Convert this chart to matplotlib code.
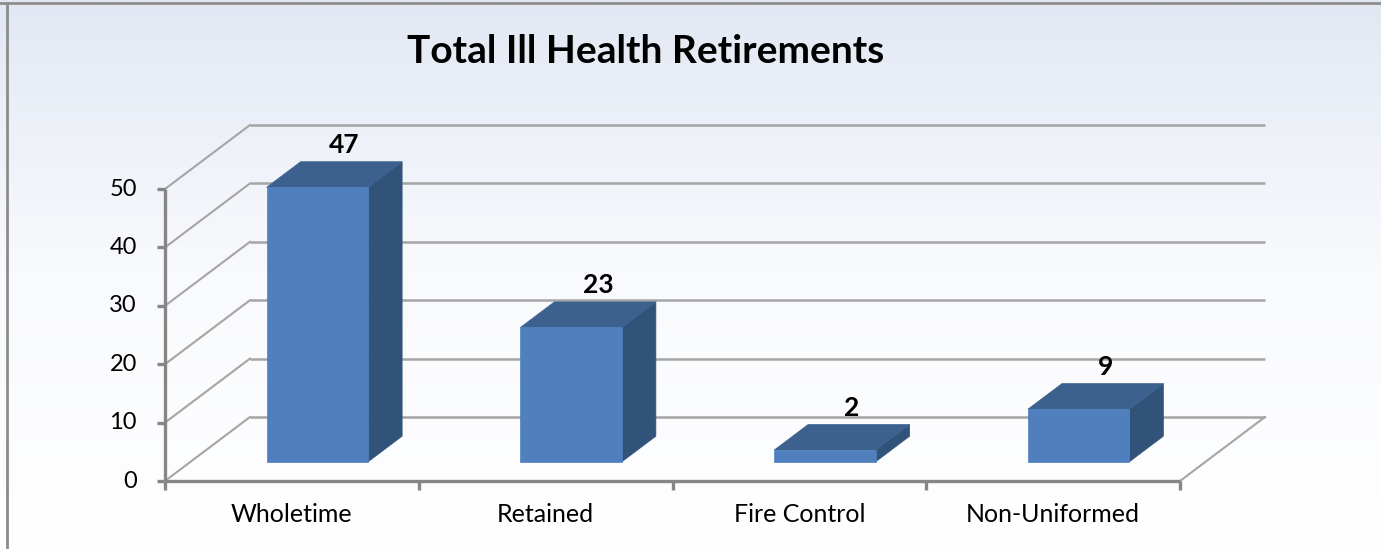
import matplotlib.pyplot as plt
import numpy as np
from matplotlib.patches import Polygon
from matplotlib.colors import LinearSegmentedColormap

categories = ["Wholetime", "Retained", "Fire Control", "Non-Uniformed"]
values = [47, 23, 2, 9]
yticks = [0, 10, 20, 30, 40, 50]
title = "Total Ill Health Retirements"

plt.rcParams['font.family'] = ['Lato', 'DejaVu Sans']

W, H = 1381, 549
fig = plt.figure(figsize=(W / 100, H / 100), dpi=100)
ax = fig.add_axes([0, 0, 1, 1])

# front plane of the 3d box: categories 0..4 and values 0..50
px_cat = (1180 - 165) / 4
px_val = (481 - 189) / 50
xlim = (-165 / px_cat, (W - 165) / px_cat)
ylim = ((481 - H) / px_val, 481 / px_val)

# depth offset of the back wall
DX = 85 / px_cat
DY = 64 / px_val


def P(x, y, d):
    return (x + d * DX, y + d * DY)


# background gradient
cmap = LinearSegmentedColormap.from_list("bg", ["#ffffff", "#f9fafd", "#e2e8f3"])
grad = np.linspace(0, 1, 256).reshape(-1, 1)
ax.imshow(grad, extent=[xlim[0], xlim[1], ylim[0], ylim[1]], origin="lower",
          aspect="auto", cmap=cmap, zorder=0)

grid_c = "#a5a5a5"
axis_c = "#868686"
n = len(categories)

# back wall gridlines + side wall diagonals
for t in yticks:
    x0, y0 = P(0, t, 1)
    x1, y1 = P(n, t, 1)
    ax.plot([x0, x1], [y0, y1], color=grid_c, lw=1.8, zorder=1, solid_capstyle="butt")
    fx, fy = P(0, t, 0)
    ax.plot([fx, x0], [fy, y0], color=grid_c, lw=1.5, zorder=1)

# floor right edge
a = P(n, 0, 0)
b = P(n, 0, 1)
ax.plot([a[0], b[0]], [a[1], b[1]], color=grid_c, lw=1.5, zorder=1)

# front axes
ax.plot([0, n], [0, 0], color=axis_c, lw=2.4, zorder=3, solid_capstyle="butt")
ax.plot([0, 0], [0, yticks[-1]], color=axis_c, lw=2.4, zorder=3, solid_capstyle="butt")
tick_x = 8 / px_cat
tick_y = 9 / px_val
for t in yticks:
    ax.plot([-tick_x, 0], [t, t], color=axis_c, lw=2.4, zorder=3, solid_capstyle="butt")
    ax.text(-28 / px_cat, t, str(t), ha="right", va="center", fontsize=17, zorder=4)
for i in range(n + 1):
    ax.plot([i, i], [0, -tick_y], color=axis_c, lw=2.4, zorder=3, solid_capstyle="butt")

# bars
front_c = "#4f80bd"
top_c = "#3c618e"
side_c = "#31537a"
bw = 0.2
d0, d1 = 0.3, 0.7
for i, v in enumerate(values):
    c = i + 0.5
    xa, xb = c - bw, c + bw
    front = [P(xa, 0, d0), P(xb, 0, d0), P(xb, v, d0), P(xa, v, d0)]
    top = [P(xa, v, d0), P(xb, v, d0), P(xb, v, d1), P(xa, v, d1)]
    side = [P(xb, 0, d0), P(xb, 0, d1), P(xb, v, d1), P(xb, v, d0)]
    for poly, col in ((side, side_c), (top, top_c), (front, front_c)):
        ax.add_patch(Polygon(poly, closed=True, facecolor=col, edgecolor=col,
                             lw=0.5, zorder=2))
    lx, ly = P(c, v, 0.62)
    ax.text(lx, v + d1 * DY + 5 / px_val, str(v), ha="center", va="bottom",
            fontsize=19, fontweight="bold", zorder=4)
    ax.text(c, -34 / px_val, categories[i], ha="center", va="center",
            fontsize=18, zorder=4)

ax.text((646 - 165) / px_cat, (481 - 51) / px_val, title, ha="center", va="center",
        fontsize=28, fontweight="bold", zorder=4)

# outer chart border (top and left visible)
ax.plot([xlim[0], xlim[1]], [(481 - 3) / px_val] * 2, color="#8c8c8c", lw=2, zorder=5)
ax.plot([(7 - 165) / px_cat] * 2, [ylim[0], (481 - 3) / px_val], color="#8c8c8c", lw=2, zorder=5)

ax.set_xlim(*xlim)
ax.set_ylim(*ylim)
ax.axis("off")
fig.savefig("out.png", dpi=100)
